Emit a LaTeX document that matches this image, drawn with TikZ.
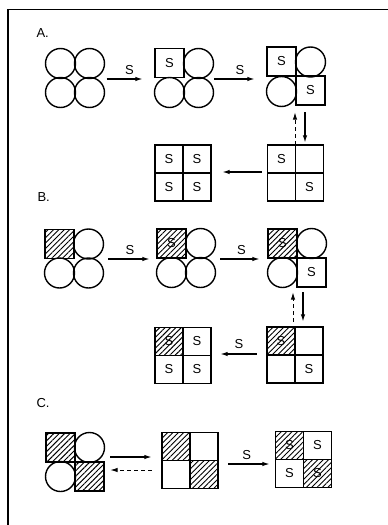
\documentclass[tikz,border=0pt]{standalone}
\usepackage{fontspec}
\setsansfont{Liberation Sans}
\usetikzlibrary{arrows.meta,patterns.meta}

\begin{document}
\begin{tikzpicture}[
    x=1pt, y=-1pt,
    font=\sffamily\fontsize{13}{15}\selectfont,
    bordo/.style={line width=1.3pt},
    cella/.style={draw, line width=1.4pt, minimum size=29pt, inner sep=0pt},
    quadro/.style={cella, minimum size=28pt},
    palla/.style={draw, circle, line width=1.4pt, minimum size=30pt, inner sep=0pt},
    tratt/.style={pattern={Lines[angle=45,distance=3.8pt,line width=0.9pt]}},
    gruppo/.style={minimum size=58pt, inner sep=0pt},
    gruppoq/.style={minimum size=56pt, inner sep=0pt},
    freccia/.style={line width=1.3pt, -{Latex[length=7.5pt,width=4.5pt]}},
    ritorno/.style={freccia, line width=1pt, dash pattern=on 4pt off 3pt}]

  \useasboundingbox (0,0) rectangle (388,525);

  % ---- cornice --------------------------------------------------------------
  \draw[bordo] (388,9.5) -- (8,9.5) -- (8,525);

  % ---- lettere delle tre righe ----------------------------------------------
  \node[anchor=west] (lA) at (33,33)  {A.};
  \node[anchor=west] (lB) at (34,197) {B.};
  \node[anchor=west] (lC) at (33,403) {C.};

  % ---- riga A ---------------------------------------------------------------
  \node[gruppo] (A1) at (75,78) {};
  \node[palla] (a1a) at (60.5,63.5) {};
  \node[palla] (a1b) at (89.5,63.5) {};
  \node[palla] (a1c) at (60.5,92.5) {};
  \node[palla] (a1d) at (89.5,92.5) {};

  \node[gruppo] (A2) at (184,78) {};
  \node[cella] (a2a) at (169.5,63) {S};
  \node[palla] (a2b) at (198.5,63.5) {};
  \node[palla] (a2c) at (169.5,92.5) {};
  \node[palla] (a2d) at (198.5,92.5) {};

  \node[gruppo] (A3) at (296,76.5) {};
  \node[cella] (a3a) at (281.5,61.5) {S};
  \node[palla] (a3b) at (310.5,62) {};
  \node[palla] (a3c) at (281.5,91.5) {};
  \node[cella] (a3d) at (310.5,90.5) {S};

  \node[gruppoq] (A4) at (295.5,173) {};
  \node[quadro] (a4a) at (281.5,159) {S};
  \node[quadro] (a4b) at (309.5,159) {};
  \node[quadro] (a4c) at (281.5,187) {};
  \node[quadro] (a4d) at (309.5,187) {S};

  \node[gruppoq] (A5) at (183,173) {};
  \foreach \n/\x/\y in {a/169/159,b/197/159,c/169/187,d/197/187}
    \node[quadro] (a5\n) at (\x,\y) {S};

  \draw[freccia, shorten <=2.5pt, shorten >=12pt]
    ([yshift=-1pt]A1.east) -- ([yshift=-1pt]A2.west) node[midway,above=0pt] {S};
  \draw[freccia, shorten <=1pt, shorten >=12pt]
    ([yshift=-1pt]A2.east) -- ([yshift=-2.5pt]A3.west) node[midway,above=0pt] {S};
  \draw[freccia, shorten <=6.5pt, shorten >=2pt]
    ([xshift=9pt]A3.south) -- ([xshift=9.5pt]A4.north);
  \draw[ritorno, shorten >=6.5pt]
    ([xshift=-0.5pt]A4.north) -- ([xshift=-1pt]A3.south);
  \draw[freccia, shorten <=5.5pt, shorten >=11pt]
    ([yshift=1pt]A4.west) -- ([yshift=1pt]A5.east);

  % ---- riga B ---------------------------------------------------------------
  \node[gruppo] (B1) at (74,258.5) {};
  \node[cella,tratt] (b1a) at (59.5,244) {};
  \node[palla] (b1b) at (88.5,244) {};
  \node[palla] (b1c) at (59.5,273) {};
  \node[palla] (b1d) at (88.5,273) {};

  \node[gruppo] (B2) at (186,258) {};
  \node[cella,tratt] (b2a) at (171.5,243.5) {S};
  \node[palla] (b2b) at (200.5,243.5) {};
  \node[palla] (b2c) at (171.5,272.5) {};
  \node[palla] (b2d) at (200.5,272.5) {};

  \node[gruppo] (B3) at (297,258) {};
  \node[cella,tratt] (b3a) at (282.5,243.5) {S};
  \node[palla] (b3b) at (311.5,243.5) {};
  \node[palla] (b3c) at (282.5,272.5) {};
  \node[cella] (b3d) at (311.5,272.5) {S};

  \node[gruppoq] (B4) at (295,355) {};
  \node[quadro,tratt] (b4a) at (281,341) {S};
  \node[quadro] (b4b) at (309,341) {};
  \node[quadro] (b4c) at (281,369) {};
  \node[quadro] (b4d) at (309,369) {S};

  \node[gruppoq] (B5) at (183,355.5) {};
  \node[quadro,tratt] (b5a) at (169,341.5) {S};
  \node[quadro] (b5b) at (197,341.5) {S};
  \node[quadro] (b5c) at (169,369.5) {S};
  \node[quadro] (b5d) at (197,369.5) {S};

  \draw[freccia, shorten <=5pt, shorten >=7pt]
    ([yshift=-0.5pt]B1.east) -- ([yshift=-1pt]B2.west) node[midway,above=0pt] {S};
  \draw[freccia, shorten <=5pt, shorten >=8pt]
    ([yshift=-1pt]B2.east) -- ([yshift=-1pt]B3.west) node[midway,above=0pt] {S};
  \draw[freccia, shorten <=5pt, shorten >=5pt]
    ([xshift=6pt]B3.south) -- ([xshift=8pt]B4.north);
  \draw[ritorno, shorten <=5pt, shorten >=5pt]
    ([xshift=-2pt]B4.north) -- ([xshift=-4pt]B3.south);
  \draw[freccia, shorten <=10pt, shorten >=9pt]
    ([yshift=1pt]B4.west) -- ([yshift=1.5pt]B5.east) node[midway,above=1pt] {S};

  % ---- riga C ---------------------------------------------------------------
  \node[gruppo] (C1) at (75,462) {};
  \node[cella,tratt] (c1a) at (60.5,447.5) {};
  \node[palla] (c1b) at (89.5,447.5) {};
  \node[palla] (c1c) at (60.5,476.5) {};
  \node[cella,tratt] (c1d) at (89.5,476.5) {};

  \node[gruppoq] (C2) at (190,460.5) {};
  \node[quadro,tratt] (c2a) at (176,446.5) {};
  \node[quadro] (c2b) at (204,446.5) {};
  \node[quadro] (c2c) at (176,474.5) {};
  \node[quadro,tratt] (c2d) at (204,474.5) {};

  \node[gruppoq] (C3) at (303.5,459.5) {};
  \node[quadro,tratt] (c3a) at (289.5,445.5) {S};
  \node[quadro] (c3b) at (317.5,445.5) {S};
  \node[quadro] (c3c) at (289.5,473.5) {S};
  \node[quadro,tratt] (c3d) at (317.5,473.5) {S};

  \draw[freccia, shorten <=6pt, shorten >=10pt]
    ([yshift=5pt]C1.east) -- ([yshift=3.5pt]C2.west);
  \draw[ritorno, shorten <=10pt, shorten >=6pt]
    ([yshift=-9.5pt]C2.west) -- ([yshift=-8pt]C1.east);
  \draw[freccia, shorten <=10pt, shorten >=5.5pt]
    ([yshift=-3.5pt]C2.east) -- ([yshift=-4.5pt]C3.west) node[midway,above=0pt] {S};

\end{tikzpicture}
\end{document}
